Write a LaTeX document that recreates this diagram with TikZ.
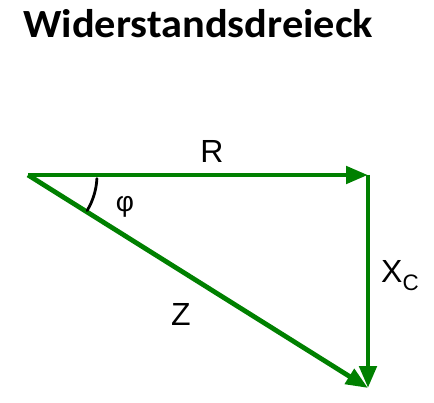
\documentclass[tikz,border=0pt]{standalone}
\usepackage{fontspec}
\setmainfont{Liberation Sans}
\newfontfamily\titlefont{Carlito}
\usetikzlibrary{arrows.meta,calc}
\definecolor{vecgreen}{RGB}{0,128,0}

\begin{document}
\begin{tikzpicture}[x=1pt, y=1pt, line join = round,
    vec/.style={draw=vecgreen, line width=4.8pt, -{Triangle[length=22pt,width=17pt]}},
    lab/.style={font=\fontsize{32}{36}\selectfont, inner sep=0pt}]
  \useasboundingbox (0,0) rectangle (434,402);
  % title
  \node[anchor=base west, inner sep=0pt, xscale=1.06, font=\titlefont\bfseries\fontsize{40}{44}\selectfont] (title) at (23,364) {Widerstandsdreieck};
  % corners of the triangle
  \coordinate (a) at (28,227);
  \coordinate (b) at (368,227);
  \coordinate (c) at (368,14);
  % vectors
  \draw[vec] (a) -- (b);
  \draw[vec] (b) -- (c);
  \draw[vec] (a) -- (c);
  % angle
  \draw[line width=2.8pt, line cap=round] ($(a)+(-3:69)$) arc[start angle=-3, end angle=-31, radius=69];
  \node[lab, font=\fontsize{28}{32}\selectfont] (phi) at (125,195) {φ};
  % labels
  \node[lab, anchor=base] (r) at (212,239) {R};
  \node[lab, anchor=base west] (xc) at (381,119) {X\textsubscript{C}};
  \node[lab, anchor=base west] (z) at (171,77) {Z};
\end{tikzpicture}
\end{document}
